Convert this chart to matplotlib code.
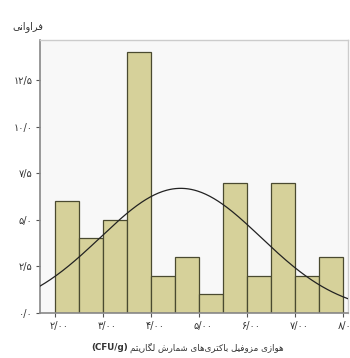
import numpy as np
import matplotlib
matplotlib.use("Agg")
import matplotlib.pyplot as plt
import matplotlib.transforms as mtransforms

# histogram data
bin_left = [2.0, 2.5, 3.0, 3.5, 4.0, 4.5, 5.0, 5.5, 6.0, 6.5, 7.0, 7.5]
counts = [6, 4, 5, 14, 2, 3, 1, 7, 2, 7, 2, 3]
bin_width = 0.5

# fitted normal curve
curve_mean = 4.62
curve_sd = 1.67

x_ticks = [2, 3, 4, 5, 6, 7, 8]
x_tick_labels = ["۲/۰۰", "۳/۰۰", "۴/۰۰", "۵/۰۰", "۶/۰۰", "۷/۰۰", "۸/۰۰"]
y_ticks = [0, 2.5, 5, 7.5, 10, 12.5]
y_tick_labels = ["۰/۰", "۲/۵", "۵/۰", "۷/۵", "۱۰/۰", "۱۲/۵"]

y_title = "فراوانی"
x_title = "لگاریتم شمارش باکتری\u200cهای مزوفیل هوازی"
x_unit = "(CFU/g)"

# matplotlib has no arabic shaping, so pick presentation forms by hand
FORMS = {
    "ا": ("\uFE8D", "\uFE8E", None, None),
    "ب": ("\uFE8F", "\uFE90", "\uFE91", "\uFE92"),
    "ت": ("\uFE95", "\uFE96", "\uFE97", "\uFE98"),
    "ر": ("\uFEAD", "\uFEAE", None, None),
    "ز": ("\uFEAF", "\uFEB0", None, None),
    "س": ("\uFEB1", "\uFEB2", "\uFEB3", "\uFEB4"),
    "ش": ("\uFEB5", "\uFEB6", "\uFEB7", "\uFEB8"),
    "ف": ("\uFED1", "\uFED2", "\uFED3", "\uFED4"),
    "ل": ("\uFEDD", "\uFEDE", "\uFEDF", "\uFEE0"),
    "م": ("\uFEE1", "\uFEE2", "\uFEE3", "\uFEE4"),
    "ن": ("\uFEE5", "\uFEE6", "\uFEE7", "\uFEE8"),
    "ه": ("\uFEE9", "\uFEEA", "\uFEEB", "\uFEEC"),
    "و": ("\uFEED", "\uFEEE", None, None),
    "ی": ("\uFBFC", "\uFBFD", "\uFBFE", "\uFBFF"),
    "ک": ("\uFB8E", "\uFB8F", "\uFB90", "\uFB91"),
    "گ": ("\uFB92", "\uFB93", "\uFB94", "\uFB95"),
}


def shape_word(text):
    out = []
    for i, ch in enumerate(text):
        if ch == "\u200c":
            continue
        if ch not in FORMS:
            out.append(ch)
            continue
        prev = text[i - 1] if i > 0 else ""
        nxt = text[i + 1] if i + 1 < len(text) else ""
        join_prev = prev in FORMS and FORMS[prev][2] is not None
        join_next = FORMS[ch][2] is not None and nxt in FORMS
        iso, fin, ini, med = FORMS[ch]
        if join_prev and join_next:
            out.append(med)
        elif join_prev:
            out.append(fin)
        elif join_next:
            out.append(ini)
        else:
            out.append(iso)
    return "".join(out)[::-1]


def shape(text):
    # the reference keeps the words in left-to-right order
    return " ".join(shape_word(w) for w in text.split(" "))


plt.rcParams["font.family"] = ["DejaVu Sans"]

fig = plt.figure(figsize=(3.5, 3.58), dpi=100)
fig.patch.set_facecolor("white")
ax = fig.add_axes([0.114, 0.126, 0.88, 0.762])
ax.set_facecolor("#f8f8f8")

ax.bar(bin_left, counts, width=bin_width, align="edge",
       color="#d6d19a", edgecolor="#4a4a30", linewidth=0.9, zorder=2)

xs = np.linspace(1.69, 8.1, 300)
ys = (sum(counts) * bin_width / (curve_sd * np.sqrt(2 * np.pi))
      * np.exp(-0.5 * ((xs - curve_mean) / curve_sd) ** 2))
ax.plot(xs, ys, color="#222222", linewidth=0.9, zorder=3)

ax.set_xlim(1.69, 8.1)
ax.set_ylim(0, 14.65)
ax.set_xticks(x_ticks)
ax.set_xticklabels(x_tick_labels, fontsize=7, color="#333333")
ax.set_yticks(y_ticks)
ax.set_yticklabels(y_tick_labels, fontsize=7, color="#333333")
ax.tick_params(length=3, width=0.8, color="#555555", pad=2.5)

shift = mtransforms.ScaledTranslation(4 / 100, 0, fig.dpi_scale_trans)
for lab in ax.get_xticklabels():
    lab.set_transform(lab.get_transform() + shift)

for side in ["top", "right"]:
    ax.spines[side].set_color("#cccccc")
    ax.spines[side].set_linewidth(1.0)
for side in ["left", "bottom"]:
    ax.spines[side].set_color("#888888")
    ax.spines[side].set_linewidth(1.2)

fig.text(0.08, 0.925, shape(y_title), fontsize=7, color="#333333",
         ha="center", va="center")
fig.text(0.372, 0.028, shape(x_title), fontsize=6.3, color="#333333",
         ha="left", va="center")
fig.text(0.366, 0.028, x_unit, fontsize=6.3, fontweight="bold",
         color="#333333", ha="right", va="center")

fig.savefig("out.png", dpi=100, facecolor="white")
